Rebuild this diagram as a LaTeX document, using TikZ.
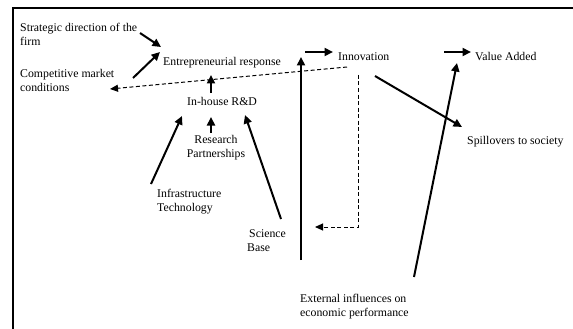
\documentclass[tikz,border=0pt]{standalone}
\usepackage{fontspec}
\setmainfont{Liberation Serif}
\usetikzlibrary{arrows.meta}
\begin{document}
\begin{tikzpicture}[x=1pt,y=-1pt,
  lbl/.style={inner sep=0pt,anchor=base west,font=\fontsize{11.8}{14}\selectfont},
  lblc/.style={inner sep=0pt,anchor=base,align=center,font=\fontsize{11.8}{13.5}\selectfont},
  lbll/.style={inner sep=0pt,anchor=base west,align=left,font=\fontsize{11.8}{14}\selectfont},
  arr/.style={line width=2pt,-{Triangle[length=8.5pt,width=8pt]}},
  darr/.style={line width=1pt,dash pattern=on 4pt off 2.5pt,-{Triangle[length=8pt,width=7pt]}},
  frame/.style={line width=1.5pt}]
\useasboundingbox (0,0) rectangle (573,329);
\fill[white] (0,0) rectangle (573,329);
% open frame: left and top edges
\draw[frame] (13,329) -- (13,8) -- (573,8);

% labels (multi-line labels are placed by the baseline of their last line)
\node[lbll] (strat) at (20,46) {Strategic direction of the\\firm};
\node[lbl] (entr) at (163,66) {Entrepreneurial response};
\node[lbll] (comp) at (20,92) {Competitive market\\conditions};
\node[lbl] (rd) at (187,105) {In-house R\&D};
\node[lblc] (res) at (216,157) {Research\\Partnerships};
\node[lbll] (infra) at (157,211) {Infrastructure\\Technology};
\node[lbll] (sci) at (247,251) {\hspace*{2pt}Science\\Base};
\node[lbl] (innov) at (338,60) {Innovation};
\node[lbl] (value) at (475,60) {Value Added};
\node[lbl] (spill) at (467,144) {Spillovers to society};
\node[lbll] (ext) at (300,316) {External influences on\\economic performance};

% connector end points
\coordinate (strat-out) at (140,33);
\coordinate (entr-in1) at (161,47);
\coordinate (comp-out) at (133,78);
\coordinate (entr-in2) at (160,52);
\coordinate (entr-out) at (305,52);
\coordinate (innov-in) at (333,52);
\coordinate (va-from) at (444,52);
\coordinate (va-in) at (471,52);
\coordinate (rd-out) at (211,93);
\coordinate (entr-in3) at (211,75);
\coordinate (fb-start) at (347,67);
\coordinate (comp-in) at (110,89);
\coordinate (innov-out) at (375,76);
\coordinate (spill-in) at (462,127);
\coordinate (ext-out1) at (301,260);
\coordinate (innov-in2) at (301,57);
\coordinate (ext-out2) at (414,277);
\coordinate (va-in2) at (457,63);
\coordinate (innov-down) at (358,75);
\coordinate (fb-corner) at (358,227);
\coordinate (sci-in) at (315,227);
\coordinate (infra-out) at (151,184);
\coordinate (rd-in1) at (182,116);
\coordinate (res-out) at (211,133);
\coordinate (rd-in2) at (211,117);
\coordinate (sci-out) at (281,219);
\coordinate (rd-in3) at (245,115);

% solid connectors
\draw[arr] (strat-out) -- (entr-in1);
\draw[arr] (comp-out) -- (entr-in2);
\draw[arr] (entr-out) -- (innov-in);
\draw[arr] (va-from) -- (va-in);
\draw[arr] (rd-out) -- (entr-in3);
\draw[arr] (innov-out) -- (spill-in);
\draw[arr] (ext-out1) -- (innov-in2);
\draw[arr] (ext-out2) -- (va-in2);
\draw[arr] (infra-out) -- (rd-in1);
\draw[arr] (res-out) -- (rd-in2);
\draw[arr] (sci-out) -- (rd-in3);

% dashed feedback connectors
\draw[darr] (fb-start) -- (comp-in);
\draw[darr] (innov-down) -- (fb-corner) -- (sci-in);
\end{tikzpicture}
\end{document}
